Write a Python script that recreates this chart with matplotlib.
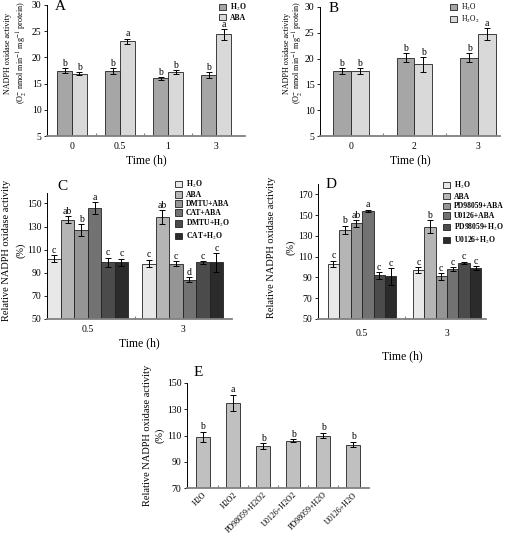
import matplotlib
matplotlib.use("Agg")
import matplotlib.pyplot as plt
import numpy as np

plt.rcParams['font.family'] = ['Liberation Serif', 'DejaVu Serif']
plt.rcParams['mathtext.fontset'] = 'stix'

W, H = 512, 536

# ---- data ----
# A: ABA treatment
a_times = ['0', '0.5', '1', '3']
a_h2o = [17.5, 17.4, 16.0, 16.6]
a_h2o_err = [0.4, 0.6, 0.3, 0.6]
a_aba = [16.9, 23.1, 17.2, 24.4]
a_aba_err = [0.3, 0.5, 0.4, 1.0]
a_h2o_sig = ['b', 'b', 'b', 'b']
a_aba_sig = ['b', 'a', 'b', 'a']

# B: H2O2 treatment
b_times = ['0', '2', '3']
b_h2o = [17.6, 20.2, 20.2]
b_h2o_err = [0.5, 0.8, 0.8]
b_h2o2 = [17.6, 18.9, 24.8]
b_h2o2_err = [0.5, 1.4, 1.1]
b_h2o_sig = ['b', 'b', 'b']
b_h2o2_sig = ['b', 'b', 'a']

# C: scavengers
c_times = ['0.5', '3']
c_labels = [r'H$_2$O', 'ABA', 'DMTU+ABA', 'CAT+ABA', r'DMTU+H$_2$O', r'CAT+H$_2$O']
c_vals = [[102, 98], [136, 138], [127, 98], [146, 84], [99, 99], [99, 99]]
c_errs = [[3, 3], [3, 6], [5, 2], [5, 2], [4, 1], [3, 8]]
c_sig = [['c', 'c'], ['ab', 'ab'], ['b', 'c'], ['a', 'd'], ['c', 'c'], ['c', 'c']]

# D: MAPKK inhibitors
d_times = ['0.5', '3']
d_labels = [r'H$_2$O', 'ABA', 'PD98059+ABA', 'U0126+ABA', r'PD98059+H$_2$O', r'U0126+H$_2$O']
d_vals = [[103, 97], [136, 139], [142, 91], [154, 98], [92, 104], [91, 99]]
d_errs = [[3, 3], [4, 6], [3, 3], [1, 2], [3, 1], [8, 2]]
d_sig = [['c', 'c'], ['b', 'b'], ['ab', 'c'], ['a', 'c'], ['c', 'c'], ['c', 'c']]

# E
e_cats = ['H2O', 'H2O2', 'PD98059+H2O2', 'U0126+H2O2', 'PD98059+H2O', 'U0126+H2O']
e_vals = [109, 135, 102, 106, 110, 103]
e_errs = [4, 6, 2, 1, 2, 2]
e_sig = ['b', 'a', 'b', 'b', 'b', 'b']

two_cols = ['#a6a6a6', '#d9d9d9']
six_cols = ['#e8e8e8', '#b5b5b5', '#959595', '#727272', '#4b4b4b', '#2b2b2b']


def box(l, r, t, b):
    return [l / W, 1 - b / H, (r - l) / W, (b - t) / H]


def style(ax, n, ylim, yticks, xlim):
    ax.set_xlim(*xlim)
    ax.set_ylim(*ylim)
    ax.set_yticks(yticks)
    ax.set_xticks(range(n))
    ax.set_xticks(np.arange(n - 1) + 0.5, minor=True)
    for s in ['top', 'right']:
        ax.spines[s].set_visible(False)
    ax.spines['left'].set_linewidth(0.7)
    ax.spines['bottom'].set_color('#808080')
    ax.spines['bottom'].set_linewidth(1.3)
    ax.tick_params(axis='y', direction='out', length=2, width=0.6, labelsize=7, pad=2)
    ax.tick_params(axis='x', which='major', length=0, labelsize=7, pad=4)
    ax.tick_params(axis='x', which='minor', direction='in', length=2, width=0.8, color='#808080')


def grouped(ax, vals, errs, sigs, cols, width, off):
    n = len(vals)
    x = np.arange(len(vals[0]))
    for i in range(n):
        xi = x + (i - (n - 1) / 2) * width
        ax.bar(xi, vals[i], width, color=cols[i], edgecolor='#222222', linewidth=0.6,
               yerr=errs[i], capsize=2, error_kw=dict(elinewidth=0.7, capthick=0.7, ecolor='black'),
               zorder=2)
        for xx, v, e, s in zip(xi, vals[i], errs[i], sigs[i]):
            ax.text(xx, v + e + off, s, ha='center', va='bottom', fontsize=7)


def ylab(x, y, lines, gap, size):
    for k, t in enumerate(lines):
        plt.figtext((x + k * gap) / W, 1 - y / H, t, rotation=90, ha='center', va='center', fontsize=size)


def legend(ax, handles, labels, x, y, size, spacing, bold=True):
    ax.legend(handles, labels, loc='upper left', bbox_to_anchor=(x / W, 1 - y / H),
              bbox_transform=fig.transFigure, frameon=False,
              prop=dict(size=size, weight='bold' if bold else 'normal'),
              handlelength=0.9, handleheight=0.9, handletextpad=0.5,
              labelspacing=spacing, borderpad=0)


fig = plt.figure(figsize=(W / 100, H / 100), dpi=100)
o2_label = r'(O$_2^{-}$ nmol min$^{-1}$ mg$^{-1}$ protein)'

# ---- A ----
ax = fig.add_axes(box(47, 245, 5, 136))
grouped(ax, [a_h2o, a_aba], [a_h2o_err, a_aba_err], [a_h2o_sig, a_aba_sig], two_cols, 0.31, 0.05)
style(ax, 4, (5, 30), range(5, 31, 5), (-0.52, 3.6))
ax.set_xticklabels(a_times)
ax.set_xlabel('Time (h)', fontsize=8.5, labelpad=3)
ax.text(60 / W, 1 - 7 / H, 'A', transform=fig.transFigure, fontsize=11, ha='center', va='center')
legend(ax, [ax.patches[0], ax.patches[4]], [r'H$_2$O', 'ABA'], 215, -2, 5.5, 0.1)
ylab(8, 53, ['NADPH oxidase activity', o2_label], 14, 5.9)

# ---- B ----
ax = fig.add_axes(box(320, 500, 7, 136))
grouped(ax, [b_h2o, b_h2o2], [b_h2o_err, b_h2o2_err], [b_h2o_sig, b_h2o2_sig], two_cols, 0.28, 0.05)
style(ax, 3, (5, 30), range(5, 31, 5), (-0.48, 2.34))
ax.set_xticklabels(b_times)
ax.set_xlabel('Time (h)', fontsize=8.5, labelpad=3)
ax.text(334 / W, 1 - 8 / H, 'B', transform=fig.transFigure, fontsize=11, ha='center', va='center')
legend(ax, [ax.patches[0], ax.patches[3]], [r'H$_2$O', r'H$_2$O$_2$'], 446, -2, 5.5, 0.05, bold=False)
ylab(287, 53, ['NADPH oxidase activity', o2_label], 11, 5.9)

# ---- C ----
ax = fig.add_axes(box(47, 232, 193, 319))
grouped(ax, c_vals, c_errs, c_sig, six_cols, 0.142, 0.5)
style(ax, 2, (50, 159), range(50, 151, 20), (-0.43, 1.52))
ax.set_xticklabels(c_times)
ax.set_xlabel('Time (h)', fontsize=8.5, labelpad=3)
ax.text(62 / W, 1 - 187 / H, 'C', transform=fig.transFigure, fontsize=11, ha='center', va='center')
legend(ax, [ax.patches[2 * i] for i in range(6)], c_labels, 171, 175, 5.5, 0.14)
ylab(7, 250, ['Relative NADPH oxidase activity', '(%)'], 14, 7.5)

# ---- D ----
ax = fig.add_axes(box(318, 486, 184, 319))
grouped(ax, d_vals, d_errs, d_sig, six_cols, 0.135, 0.5)
style(ax, 2, (50, 180), range(50, 171, 20), (-0.52, 1.46))
ax.set_xticklabels(d_times)
ax.tick_params(axis='x', which='major', pad=7)
ax.set_xlabel('Time (h)', fontsize=8.5, labelpad=9)
ax.text(331 / W, 1 - 185 / H, 'D', transform=fig.transFigure, fontsize=11, ha='center', va='center')
legend(ax, [ax.patches[2 * i] for i in range(6)], d_labels, 439, 176, 5.5, 0.22)
ylab(272, 247, ['Relative NADPH oxidase activity', '(%)'], 19, 7.5)

# ---- E ----
ax = fig.add_axes(box(187, 369, 383, 488))
ax.bar(range(len(e_vals)), e_vals, 0.47, color='#c0c0c0', edgecolor='#222222', linewidth=0.6,
       yerr=e_errs, capsize=2, error_kw=dict(elinewidth=0.7, capthick=0.7, ecolor='black'), zorder=2)
for i, (v, e, s) in enumerate(zip(e_vals, e_errs, e_sig)):
    ax.text(i, v + e + 0.5, s, ha='center', va='bottom', fontsize=7)
style(ax, 6, (70, 150), range(70, 151, 20), (-0.53, 5.53))
ax.set_xticklabels(e_cats, rotation=45, ha='right', rotation_mode='anchor', fontsize=5.8)
ax.tick_params(axis='x', which='major', pad=2)
ax.text(198 / W, 1 - 372 / H, 'E', transform=fig.transFigure, fontsize=11, ha='center', va='center')
ylab(147, 435, ['Relative NADPH oxidase activity', '(%)'], 13, 7.5)

fig.savefig('out.png', dpi=100)
